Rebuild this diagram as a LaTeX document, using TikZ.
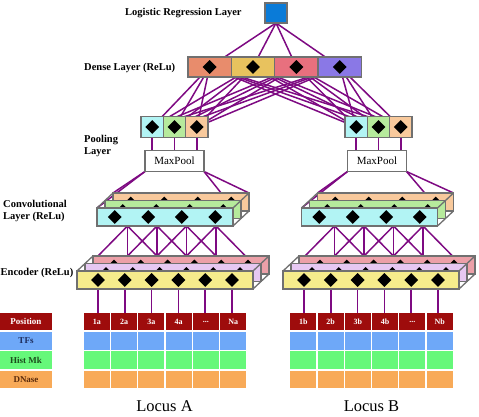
\documentclass[tikz,border=0pt]{standalone}
\usepackage{fontspec}
\setmainfont{Liberation Serif}
\usetikzlibrary{shapes.geometric,backgrounds}

\definecolor{lrblue}{HTML}{0A7BD8}
\definecolor{denseA}{HTML}{E88C6C}
\definecolor{denseB}{HTML}{E8C25E}
\definecolor{denseC}{HTML}{E8707E}
\definecolor{denseD}{HTML}{8A78E6}
\definecolor{fcyan}{HTML}{B2F4F4}
\definecolor{fgreen}{HTML}{B6EA9C}
\definecolor{fpeach}{HTML}{F8C99C}
\definecolor{fyellow}{HTML}{F6EC8C}
\definecolor{flilac}{HTML}{E6C8F2}
\definecolor{fpink}{HTML}{ECA0A8}
\definecolor{posred}{HTML}{9E0C0C}
\definecolor{tfblue}{HTML}{6EA8F8}
\definecolor{hmgreen}{HTML}{66F87A}
\definecolor{dnorange}{HTML}{F8AA58}
\definecolor{linkpurple}{HTML}{7E0A82}
\definecolor{edgegray}{HTML}{707070}
\definecolor{tftext}{HTML}{1C2C5C}
\definecolor{hmtext}{HTML}{1C4C1C}
\definecolor{dntext}{HTML}{5C2C0C}

\newcommand{\celldots}{...}

\tikzset{
  cell/.style={rectangle, draw=edgegray, line width=1.3pt, inner sep=0pt, outer sep=0pt},
  bigdmd/.style={diamond, fill=black, inner sep=0pt, minimum size=14pt},
  link/.style={draw=linkpurple, line width=1.5pt},
  slabedge/.style={draw=edgegray, line width=1.3pt},
  layerlbl/.style={font=\fontsize{10.5}{12.5}\selectfont\bfseries, align=left, inner sep=0pt},
  gridcell/.style={rectangle, inner sep=0pt, minimum width=26pt, minimum height=17.5pt,
    font=\fontsize{8}{9}\selectfont\bfseries, text=white},
  rowcell/.style={gridcell, minimum width=52pt, font=\fontsize{9}{10}\selectfont\bfseries},
}

\begin{document}
\begin{tikzpicture}[x=1pt, y=-1pt]
\useasboundingbox (0,0) rectangle (479,417);

% logistic regression unit
\node[cell, fill=lrblue, minimum width=22pt, minimum height=20pt] (lr) at (276,13) {};
\node[layerlbl, anchor=base west] (lrlbl) at (125,16) {Logistic Regression Layer};

% dense layer
\foreach \i/\c/\x in {1/denseA/209.6, 2/denseB/253, 3/denseC/296.4, 4/denseD/339.8} {
  \node[cell, fill=\c, minimum width=43.3pt, minimum height=20pt] (dc\i) at (\x,67) {};
  \node[bigdmd] (dd\i) at (dc\i) {};
}
\node[layerlbl, anchor=base west] (dlbl) at (84,71) {Dense Layer (ReLu)};

% pooling + maxpool, one per locus
\foreach \s/\xa/\mx in {A/152.2/174.5, B/356.2/377} {
  \foreach \i/\c in {1/fcyan, 2/fgreen, 3/fpeach} {
    \node[cell, fill=\c, minimum width=22.3pt, minimum height=21pt] (pc\s\i) at (\xa+22.3*\i-22.3,127) {};
    \node[bigdmd] (pd\s\i) at (pc\s\i) {};
  }
  \node[cell, fill=white, minimum width=59pt, minimum height=21pt,
    font=\fontsize{11}{12}\selectfont] (mp\s) at (\mx,161) {MaxPool};
}
\node[layerlbl, anchor=west] (plbl) at (84,146) {Pooling\\Layer};

% convolutional slabs (back to front)
\foreach \s/\cx in {A/165, B/369.5} {
  \foreach \l/\c/\dx/\cy/\ds in {3/fpeach/16/202/11, 2/fgreen/8/209.5/11, 1/fcyan/0/217/14} {
    \node[cell, fill=\c, minimum width=136pt, minimum height=18pt] (cv\s\l) at (\cx+\dx,\cy) {};
    \foreach \k/\d in {1/-50.25, 2/-16.75, 3/16.75, 4/50.25}
      \node[bigdmd, minimum size=\ds pt] (cd\s\l\k) at (\cx+\dx+\d,\cy) {};
  }
  \draw[slabedge] (cv\s1.north west) -- (cv\s3.north west);
  \draw[slabedge] (cv\s1.north east) -- (cv\s3.north east);
  \draw[slabedge] (cv\s1.south east) -- (cv\s3.south east);
}
\node[layerlbl, anchor=west] (clbl) at (3,211) {Convolutional\\Layer (ReLu)};

% encoder slabs (back to front)
\foreach \s/\cx in {A/165, B/371} {
  \foreach \l/\c/\dx/\cy/\ds in {3/fpink/16/265/11, 2/flilac/8/272.5/11, 1/fyellow/0/280/14} {
    \node[cell, fill=\c, minimum width=176pt, minimum height=18pt] (en\s\l) at (\cx+\dx,\cy) {};
    \foreach \k/\d in {1/-67, 2/-40.2, 3/-13.4, 4/13.4, 5/40.2, 6/67}
      \node[bigdmd, minimum size=\ds pt] (ed\s\l\k) at (\cx+\dx+\d,\cy) {};
  }
  \draw[slabedge] (en\s1.north west) -- (en\s3.north west);
  \draw[slabedge] (en\s1.north east) -- (en\s3.north east);
  \draw[slabedge] (en\s1.south east) -- (en\s3.south east);
}
\node[layerlbl, anchor=base west] (elbl) at (0.5,275.5) {Encoder (ReLu)};

% input grids
\node[rowcell, fill=posred] (rowpos) at (26,321.5) {Position};
\node[rowcell, fill=tfblue, text=tftext] (rowtf) at (26,340.8) {TFs};
\node[rowcell, fill=hmgreen, text=hmtext] (rowhm) at (26,360.1) {Hist Mk};
\node[rowcell, fill=dnorange, text=dntext] (rowdn) at (26,379.4) {DNase};
\foreach \s/\gx/\t in {A/165/a, B/371.5/b} {
  \foreach \k/\lab in {1/1\t, 2/2\t, 3/3\t, 4/4\t, 5/\celldots, 6/N\t}
    \node[gridcell, fill=posred] (g\s1\k) at (\gx+27.3*\k-95.55,321.5) {\lab};
  \foreach \r/\c/\y in {2/tfblue/340.8, 3/hmgreen/360.1, 4/dnorange/379.4}
    \foreach \k in {1,...,6}
      \node[gridcell, fill=\c] (g\s\r\k) at (\gx+27.3*\k-95.55,\y) {};
}
\node[font=\fontsize{16.5}{18}\selectfont] (locA) at (164.5,406) {Locus A};
\node[font=\fontsize{16.5}{18}\selectfont] (locB) at (371.5,406) {Locus B};

% kernel end points between conv and encoder
\foreach \s/\off in {A/0, B/207} {
  \foreach \i/\x in {1/127.5, 2/157, 3/186.5, 4/216}
    \coordinate (cb\s\i) at (\x+\off,226);
  \foreach \i/\x in {1/98, 2/127.5, 3/157, 4/186.5, 5/216, 6/245.5}
    \coordinate (et\s\i) at (\x+\off,256);
}

% connections
\begin{pgfonlayer}{background}
  \foreach \i in {1,...,4} {
    \draw[link] (lr.south) -- (dd\i.center);
    \foreach \s in {A,B}
      \foreach \j in {1,2,3}
        \draw[link] (dd\i.center) -- (pd\s\j.center);
  }
  \foreach \s in {A,B} {
    \foreach \j in {1,2,3}
      \draw[link] (pd\s\j.center) -- (pd\s\j |- mp\s.north);
    \draw[link] (mp\s.south west) -- (cv\s1.north west);
    \draw[link] (mp\s.south west) -- (cv\s3.north west);
    \draw[link] (mp\s.south east) -- (cv\s1.north east);
    \draw[link] (mp\s.south east) -- (cv\s3.north east);
    \foreach \i in {1,...,4} {
      \pgfmathtruncatemacro\ia{\i+1}
      \pgfmathtruncatemacro\ib{\i+2}
      \draw[link] (cb\s\i) -- (et\s\i);
      \draw[link] (cb\s\i) -- (et\s\ia);
      \draw[link] (cb\s\i) -- (et\s\ib);
    }
    \foreach \k in {1,...,6}
      \draw[link] (ed\s1\k.center) -- (ed\s1\k |- g\s1\k.north);
  }
\end{pgfonlayer}
\end{tikzpicture}
\end{document}
